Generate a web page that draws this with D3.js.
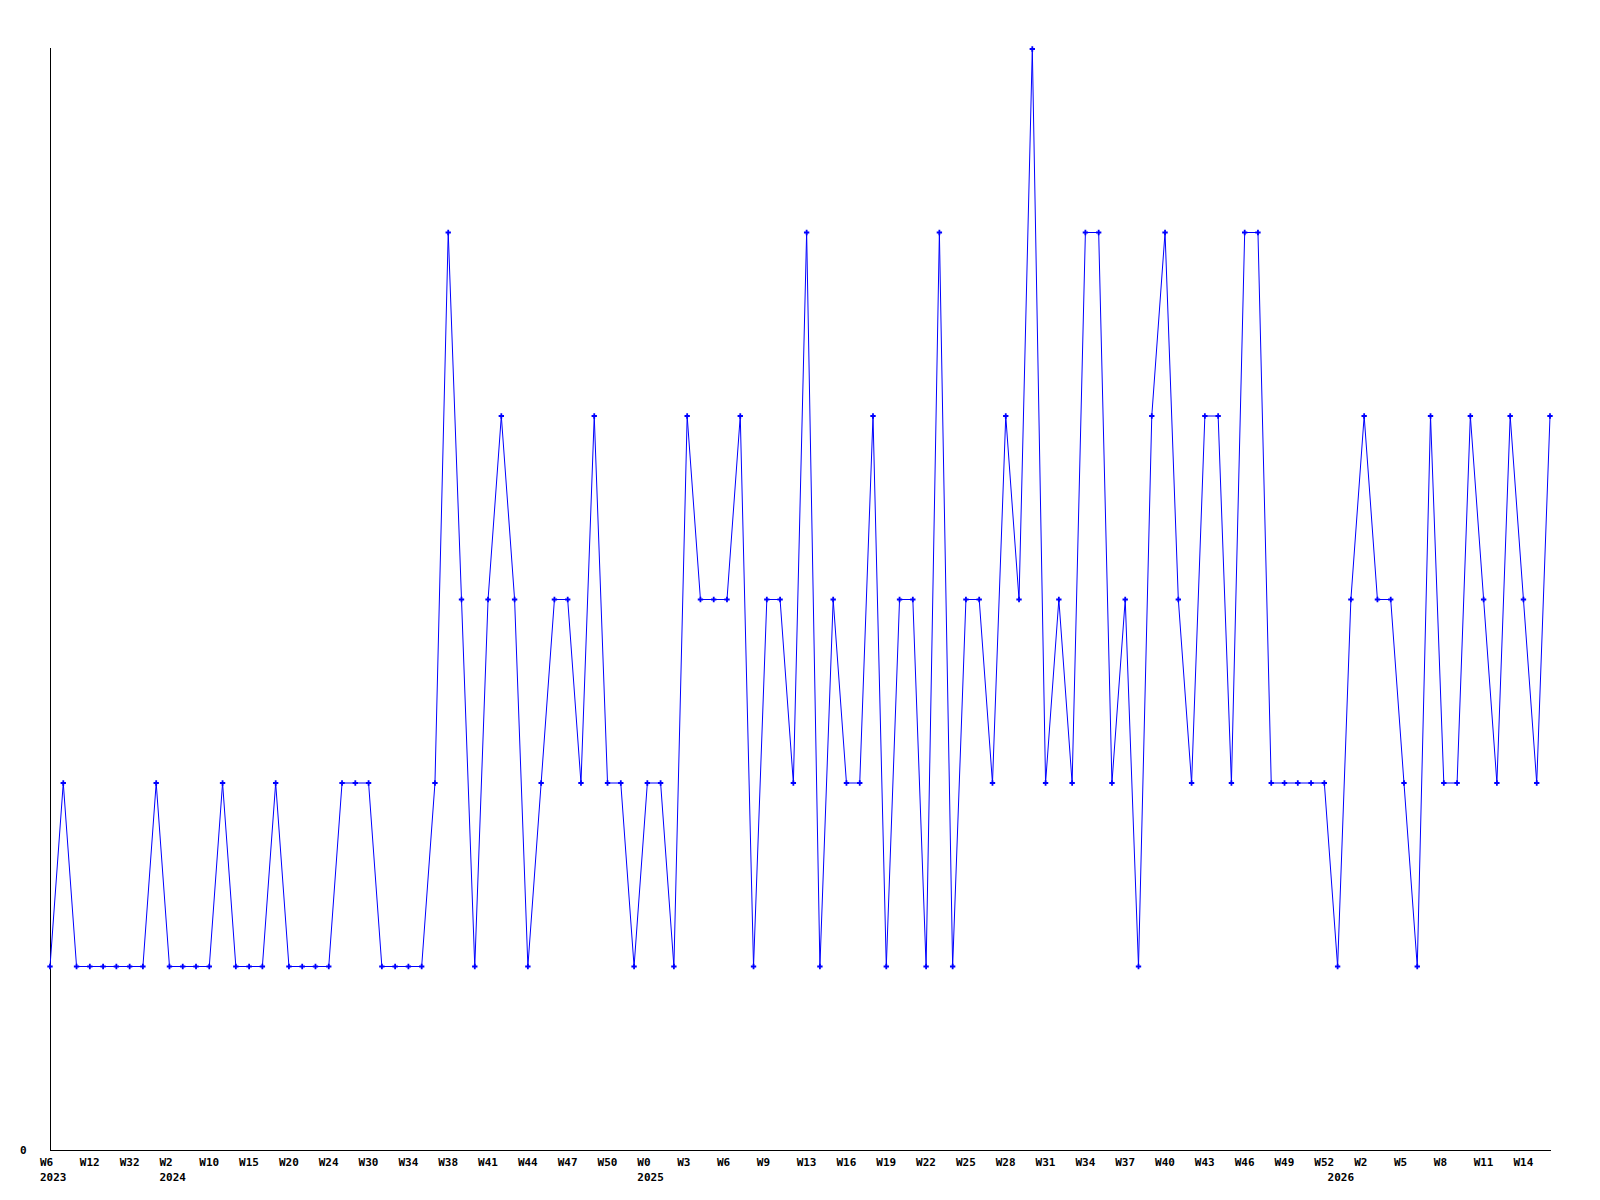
<!DOCTYPE html>
<html lang="en-US">
<head>
    <script src="https://d3js.org/d3.v7.min.js"></script>
</head>
<body style="margin:0;background:#fff">
<style>
    svg text {
        font-family: "DejaVu Sans Mono", monospace;
        font-weight: bold;
        font-size: 11px;
        fill: #000;
    }
</style>

<svg width="1600" height="1200"></svg>

<script>
// weekly values, one per point
var values = [
    1, 2, 1, 1, 1, 1, 1, 1, 2, 1, 1, 1, 1, 2, 1, 1, 1, 2, 1, 1,
    1, 1, 2, 2, 2, 1, 1, 1, 1, 2, 5, 3, 1, 3, 4, 3, 1, 2, 3, 3,
    2, 4, 2, 2, 1, 2, 2, 1, 4, 3, 3, 3, 4, 1, 3, 3, 2, 5, 1, 3,
    2, 2, 4, 1, 3, 3, 1, 5, 1, 3, 3, 2, 4, 3, 6, 2, 3, 2, 5, 5,
    2, 3, 1, 4, 5, 3, 2, 4, 4, 2, 5, 5, 2, 2, 2, 2, 2, 1, 3, 4,
    3, 3, 2, 1, 4, 2, 2, 4, 3, 2, 4, 3, 2, 4
];

// a week label every third point
var weekLabels = ["W6", "W12", "W32", "W2", "W10", "W15", "W20", "W24", "W30", "W34",
    "W38", "W41", "W44", "W47", "W50", "W0", "W3", "W6", "W9", "W13",
    "W16", "W19", "W22", "W25", "W28", "W31", "W34", "W37", "W40", "W43",
    "W46", "W49", "W52", "W2", "W5", "W8", "W11", "W14"];
var labelStep = 3;

// year labels sit under the first point of each year
var years = ["2023", "2024", "2025", "2026"];
var yearStart = [0, 9, 45, 97];

var svg = d3.select("svg");

var x = d3.scaleLinear().domain([0, values.length - 1]).range([50, 1550]);
var y = d3.scaleLinear().domain([0, 6]).range([1150, 49]);

// axes
svg.append("line")
    .attr("x1", 50.5).attr("x2", 50.5)
    .attr("y1", 48).attr("y2", 1150)
    .attr("stroke", "#000").attr("shape-rendering", "crispEdges");
svg.append("line")
    .attr("x1", 50).attr("x2", 1551)
    .attr("y1", 1150.5).attr("y2", 1150.5)
    .attr("stroke", "#000").attr("shape-rendering", "crispEdges");

svg.append("text")
    .attr("x", 20).attr("y", 1154)
    .text("0");

svg.append("g").selectAll("text")
    .data(weekLabels)
    .enter().append("text")
    .attr("x", (d, i) => x(i * labelStep) - 10)
    .attr("y", 1166)
    .text(d => d);

svg.append("g").selectAll("text")
    .data(years)
    .enter().append("text")
    .attr("x", (d, i) => x(yearStart[i]) - 10)
    .attr("y", 1181)
    .text(d => d);

// series
var line = d3.line()
    .x((d, i) => x(i))
    .y(d => y(d));

svg.append("path")
    .datum(values)
    .attr("d", line)
    .attr("fill", "none")
    .attr("stroke", "#0000ff")
    .attr("stroke-width", 1);

svg.append("g").selectAll("path")
    .data(values)
    .enter().append("path")
    .attr("d", d3.symbol().type(d3.symbolCross).size(16))
    .attr("transform", (d, i) => `translate(${x(i)}, ${y(d)})`)
    .attr("fill", "#0000ff");
</script>
</body>
</html>
